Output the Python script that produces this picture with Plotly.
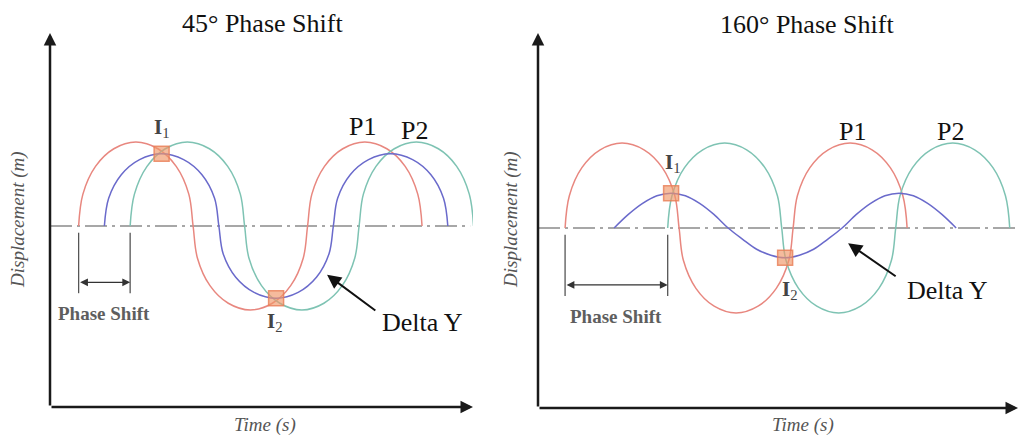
import plotly.graph_objects as go

# ---------------- data (time units / displacement units) ----------------
left_title = "45° Phase Shift"
right_title = "160° Phase Shift"
x_label = "Time (s)"
y_label = "Displacement (m)"

left_red_t = [1.0, 1.15, 1.59, 2.23, 3.0, 3.77, 4.41, 4.85, 5.0, 5.15, 5.59, 6.23, 7.0, 7.77, 8.41, 8.85,
              9.0, 9.15, 9.59, 10.23, 11.0, 11.77, 12.41, 12.85, 13.0]
left_red_y = [0, 0.38, 0.71, 0.92, 1.0, 0.92, 0.71, 0.38, 0, -0.38, -0.71, -0.92, -1.0, -0.92, -0.71, -0.38,
              0, 0.38, 0.71, 0.92, 1.0, 0.92, 0.71, 0.38, 0]
left_green_t = [2.8, 2.95, 3.39, 4.03, 4.8, 5.57, 6.21, 6.65, 6.8, 6.95, 7.39, 8.03, 8.8, 9.57, 10.21, 10.65,
                10.8, 10.95, 11.39, 12.03, 12.8, 13.57, 14.21, 14.65, 14.8]
left_green_y = [0, 0.38, 0.71, 0.92, 1.0, 0.92, 0.71, 0.38, 0, -0.38, -0.71, -0.92, -1.0, -0.92, -0.71, -0.38,
                0, 0.38, 0.71, 0.92, 1.0, 0.92, 0.71, 0.38, 0]
left_blue_t = [1.9, 2.05, 2.49, 3.13, 3.9, 4.67, 5.31, 5.75, 5.9, 6.05, 6.49, 7.13, 7.9, 8.67, 9.31, 9.75,
               9.9, 10.05, 10.49, 11.13, 11.9, 12.67, 13.31, 13.75, 13.9]
left_blue_y = [0, 0.33, 0.61, 0.79, 0.86, 0.79, 0.61, 0.33, 0, -0.33, -0.61, -0.79, -0.86, -0.79, -0.61, -0.33,
               0, 0.33, 0.61, 0.79, 0.86, 0.79, 0.61, 0.33, 0]
left_int_t = [3.9, 7.9]
left_int_y = [0.86, -0.86]

right_red_t = [0.95, 1.1, 1.54, 2.18, 2.95, 3.72, 4.36, 4.8, 4.95, 5.1, 5.54, 6.18, 6.95, 7.72, 8.36, 8.8,
               8.95, 9.1, 9.54, 10.18, 10.95, 11.72, 12.36, 12.8, 12.95]
right_red_y = [0, 0.38, 0.71, 0.92, 1.0, 0.92, 0.71, 0.38, 0, -0.38, -0.71, -0.92, -1.0, -0.92, -0.71, -0.38,
               0, 0.38, 0.71, 0.92, 1.0, 0.92, 0.71, 0.38, 0]
right_green_t = [4.55, 4.7, 5.14, 5.78, 6.55, 7.32, 7.96, 8.4, 8.55, 8.7, 9.14, 9.78, 10.55, 11.32, 11.96, 12.4,
                 12.55, 12.7, 13.14, 13.78, 14.55, 15.32, 15.96, 16.4, 16.55]
right_green_y = [0, 0.38, 0.71, 0.92, 1.0, 0.92, 0.71, 0.38, 0, -0.38, -0.71, -0.92, -1.0, -0.92, -0.71, -0.38,
                 0, 0.38, 0.71, 0.92, 1.0, 0.92, 0.71, 0.38, 0]
right_blue_t = [2.67, 3.17, 3.67, 4.17, 4.67, 5.17, 5.67, 6.17, 6.67, 7.17, 7.67, 8.17, 8.67, 9.17, 9.67, 10.17,
                10.67, 11.17, 11.67, 12.17, 12.67, 13.17, 13.67, 14.17, 14.67]
right_blue_y = [0, 0.16, 0.29, 0.38, 0.41, 0.38, 0.29, 0.16, 0, -0.13, -0.25, -0.32, -0.35, -0.32, -0.25, -0.13,
                0, 0.16, 0.29, 0.38, 0.41, 0.38, 0.29, 0.16, 0]
right_int_t = [4.67, 8.67]
right_int_y = [0.41, -0.35]

left_range_t = [0, 14.78]
left_range_y = [-2.155, 2.298]
right_range_t = [0, 16.84]
right_range_y = [-2.118, 2.294]
left_base_t = [0, 14.68]
right_base_t = [0, 16.75]

# ---------------- styling ----------------
W, H = 1019, 441
RED = "#e8877f"
GREEN = "#7ec3b3"
BLUE = "#6a6acb"
SERIF = "Liberation Serif, Times New Roman, serif"

fig = go.Figure()


def add_line(t, y, color, xa, ya, dash=None, width=1.5):
    fig.add_trace(go.Scatter(
        x=t, y=y, mode="lines", xaxis=xa, yaxis=ya,
        line=dict(color=color, width=width, shape="spline" if dash is None else "linear",
                  smoothing=1.0, dash=dash),
        hoverinfo="skip", showlegend=False))


panels = [
    dict(xa="x", ya="y", red=(left_red_t, left_red_y), green=(left_green_t, left_green_y),
         blue=(left_blue_t, left_blue_y), it=left_int_t, iy=left_int_y, rt=left_range_t,
         ry=left_range_y, base=left_base_t),
    dict(xa="x2", ya="y2", red=(right_red_t, right_red_y), green=(right_green_t, right_green_y),
         blue=(right_blue_t, right_blue_y), it=right_int_t, iy=right_int_y, rt=right_range_t,
         ry=right_range_y, base=right_base_t),
]

for p in panels:
    add_line(p["base"], [0, 0], "#8a8a8a", p["xa"], p["ya"], dash="22px,5px,3px,5px", width=1.6)
    add_line(*p["red"], RED, p["xa"], p["ya"])
    add_line(*p["green"], GREEN, p["xa"], p["ya"])
    add_line(*p["blue"], BLUE, p["xa"], p["ya"])
    fig.add_trace(go.Scatter(
        x=p["it"], y=p["iy"], mode="markers", xaxis=p["xa"], yaxis=p["ya"],
        marker=dict(symbol="square", size=15, color="rgba(240,150,105,0.65)",
                    line=dict(color="rgba(232,125,85,0.8)", width=1.5)),
        hoverinfo="skip", showlegend=False))

annotations = []
shapes = []

for p in panels:
    xa, ya = p["xa"], p["ya"]
    # axes with arrowheads
    annotations.append(dict(x=p["rt"][0], y=p["ry"][1], ax=p["rt"][0], ay=p["ry"][0],
                            xref=xa, yref=ya, axref=xa, ayref=ya, text="", showarrow=True,
                            arrowhead=2, arrowsize=1.0, arrowwidth=2.5, arrowcolor="#1a1a1a"))
    annotations.append(dict(x=p["rt"][1], y=p["ry"][0], ax=p["rt"][0], ay=p["ry"][0],
                            xref=xa, yref=ya, axref=xa, ayref=ya, text="", showarrow=True,
                            arrowhead=2, arrowsize=1.0, arrowwidth=2.5, arrowcolor="#1a1a1a"))
    # phase shift bracket
    t0, t1 = p["red"][0][0], p["green"][0][0]
    for tt in (t0, t1):
        shapes.append(dict(type="line", xref=xa, yref=ya, x0=tt, x1=tt, y0=-0.08, y1=-0.8,
                           line=dict(color="#555555", width=1.3)))
    annotations.append(dict(x=t1, y=-0.67, ax=t0, ay=-0.67, xref=xa, yref=ya, axref=xa, ayref=ya,
                            text="", showarrow=True, arrowside="end+start", arrowhead=2,
                            startarrowhead=2, arrowsize=1.3, startarrowsize=1.3, arrowwidth=1.2,
                            arrowcolor="#333333"))
    annotations.append(dict(x=(t0 + t1) / 2, y=-1.04, xref=xa, yref=ya, text="<b>Phase Shift</b>",
                            xanchor="center", showarrow=False,
                            font=dict(family=SERIF, size=19, color="#5e5e5e")))

# intersection labels, peak labels, Delta Y
label_font = dict(family=SERIF, size=26, color="#111111")
i_font = dict(family=SERIF, size=21, color="#444444")
annotations += [
    dict(x=3.92, y=1.17, xref="x", yref="y", text="<b>I</b><sub>1</sub>", showarrow=False, font=i_font),
    dict(x=7.86, y=-1.14, xref="x", yref="y", text="<b>I</b><sub>2</sub>", showarrow=False, font=i_font),
    dict(x=4.72, y=0.76, xref="x2", yref="y2", text="<b>I</b><sub>1</sub>", showarrow=False, font=i_font),
    dict(x=8.84, y=-0.73, xref="x2", yref="y2", text="<b>I</b><sub>2</sub>", showarrow=False, font=i_font),
    dict(x=10.93, y=1.18, xref="x", yref="y", text="P1", showarrow=False, font=label_font),
    dict(x=12.75, y=1.14, xref="x", yref="y", text="P2", showarrow=False, font=label_font),
    dict(x=11.02, y=1.13, xref="x2", yref="y2", text="P1", showarrow=False, font=label_font),
    dict(x=14.46, y=1.13, xref="x2", yref="y2", text="P2", showarrow=False, font=label_font),
    dict(x=13.0, y=-1.15, xref="x", yref="y", text="Delta Y", showarrow=False, font=label_font),
    dict(x=14.35, y=-0.73, xref="x2", yref="y2", text="Delta Y", showarrow=False, font=label_font),
    dict(x=9.68, y=-0.58, ax=11.42, ay=-1.02, xref="x", yref="y", axref="x", ayref="y", text="",
         showarrow=True, arrowhead=2, arrowsize=1.4, arrowwidth=2, arrowcolor="#111111"),
    dict(x=10.88, y=-0.18, ax=12.6, ay=-0.58, xref="x2", yref="y2", axref="x2", ayref="y2", text="",
         showarrow=True, arrowhead=2, arrowsize=1.4, arrowwidth=2, arrowcolor="#111111"),
]
for a in annotations:
    a.setdefault("xanchor", "center")
    a.setdefault("yanchor", "middle")


# titles and axis titles (paper coords)
def px(xp):
    return xp / W


def py(yp):
    return 1 - yp / H


annotations += [
    dict(x=px(262), y=py(23), xref="paper", yref="paper", text=left_title, showarrow=False,
         xanchor="center", yanchor="middle", font=dict(family=SERIF, size=26, color="#111111")),
    dict(x=px(807), y=py(25), xref="paper", yref="paper", text=right_title, showarrow=False,
         xanchor="center", yanchor="middle", font=dict(family=SERIF, size=26, color="#111111")),
    dict(x=px(265), y=py(425), xref="paper", yref="paper", text="<i>" + x_label + "</i>",
         xanchor="center", yanchor="middle", showarrow=False,
         font=dict(family=SERIF, size=19, color="#555555")),
    dict(x=px(803), y=py(425), xref="paper", yref="paper", text="<i>" + x_label + "</i>",
         xanchor="center", yanchor="middle", showarrow=False,
         font=dict(family=SERIF, size=19, color="#555555")),
    dict(x=px(18), y=py(220), xref="paper", yref="paper", text="<i>" + y_label + "</i>",
         xanchor="center", yanchor="middle", showarrow=False, textangle=-90,
         font=dict(family=SERIF, size=19, color="#555555")),
    dict(x=px(511), y=py(220), xref="paper", yref="paper", text="<i>" + y_label + "</i>",
         xanchor="center", yanchor="middle", showarrow=False, textangle=-90,
         font=dict(family=SERIF, size=19, color="#555555")),
]

hidden = dict(showgrid=False, zeroline=False, showticklabels=False, showline=False, ticks="")
fig.update_layout(
    width=W, height=H, margin=dict(l=0, r=0, t=0, b=0),
    paper_bgcolor="white", plot_bgcolor="white", showlegend=False,
    xaxis=dict(domain=[px(50), px(473)], range=left_range_t, **hidden),
    yaxis=dict(domain=[py(407), py(33)], range=left_range_y, **hidden),
    xaxis2=dict(domain=[px(538), px(1018)], range=right_range_t, anchor="y2", **hidden),
    yaxis2=dict(domain=[py(408), py(33)], range=right_range_y, anchor="x2", **hidden),
    annotations=annotations, shapes=shapes,
)

fig.write_html("out.html", config={"displayModeBar": False},
               post_script="document.body.style.margin='0px';")
